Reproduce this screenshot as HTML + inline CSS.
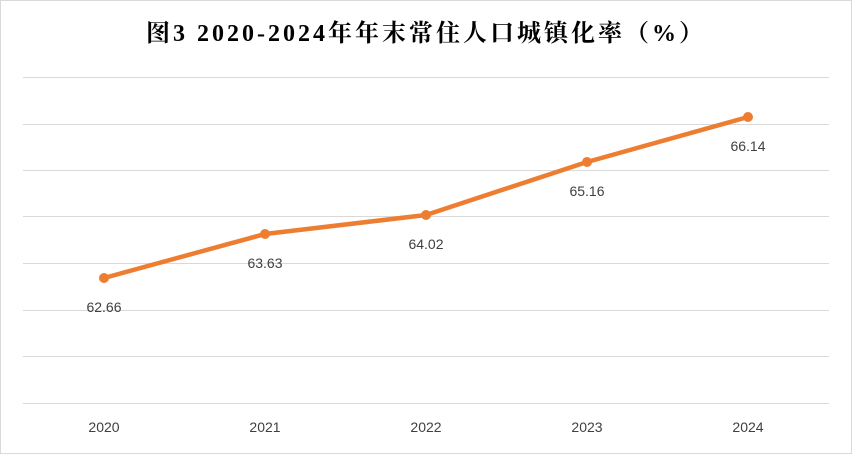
<!DOCTYPE html>
<html><head><meta charset="utf-8"><style>
html,body{margin:0;padding:0;background:#fff}
</style></head><body>
<svg width="852" height="454" xmlns="http://www.w3.org/2000/svg">
<rect x="0.5" y="0.5" width="851" height="453" fill="#fff" stroke="#d9d9d9"/>
<text x="426" y="41" text-anchor="middle" font-family="'Liberation Serif','Noto Serif CJK SC',serif" font-weight="bold" font-size="24" letter-spacing="3" fill="#000">图3 2020-2024年年末常住人口城镇化率（%）</text>
<g stroke="#d9d9d9" stroke-width="1">
<line x1="23" x2="829" y1="77.5" y2="77.5"/>
<line x1="23" x2="829" y1="124.5" y2="124.5"/>
<line x1="23" x2="829" y1="170.5" y2="170.5"/>
<line x1="23" x2="829" y1="216.5" y2="216.5"/>
<line x1="23" x2="829" y1="263.5" y2="263.5"/>
<line x1="23" x2="829" y1="310.5" y2="310.5"/>
<line x1="23" x2="829" y1="356.5" y2="356.5"/>
<line x1="23" x2="829" y1="403.5" y2="403.5"/>
</g>
<polyline points="104,278 265,234 426,215 587,162 748,117" fill="none" stroke="#ed7d31" stroke-width="4.5" stroke-linejoin="round"/>
<g fill="#ed7d31">
<circle cx="104" cy="278" r="5"/><circle cx="265" cy="234" r="5"/><circle cx="426" cy="215" r="5"/><circle cx="587" cy="162" r="5"/><circle cx="748" cy="117" r="5"/>
</g>
<g font-family="'Liberation Sans',sans-serif" font-size="14" fill="#404040" text-anchor="middle">
<text x="104" y="312">62.66</text>
<text x="265" y="268">63.63</text>
<text x="426" y="249">64.02</text>
<text x="587" y="196">65.16</text>
<text x="748" y="151">66.14</text>
<text x="104" y="432">2020</text>
<text x="265" y="432">2021</text>
<text x="426" y="432">2022</text>
<text x="587" y="432">2023</text>
<text x="748" y="432">2024</text>
</g>
</svg>
</body></html>
